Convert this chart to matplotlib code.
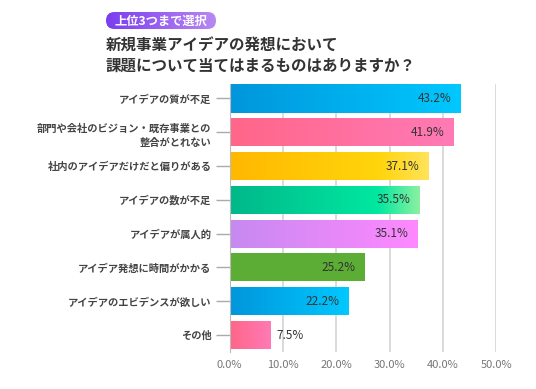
import numpy as np
import matplotlib
matplotlib.use("Agg")
import matplotlib.pyplot as plt
from matplotlib.colors import LinearSegmentedColormap
from matplotlib.patches import FancyBboxPatch

plt.rcParams['font.family'] = ['Noto Sans CJK JP', 'DejaVu Sans']

categories = [
    "アイデアの質が不足",
    "部門や会社のビジョン・既存事業との\n整合がとれない",
    "社内のアイデアだけだと偏りがある",
    "アイデアの数が不足",
    "アイデアが属人的",
    "アイデア発想に時間がかかる",
    "アイデアのエビデンスが欲しい",
    "その他",
]
values = [43.2, 41.9, 37.1, 35.5, 35.1, 25.2, 22.2, 7.5]
xticks = [0, 10, 20, 30, 40, 50]
badge_text = "上位3つまで選択"
title_lines = ["新規事業アイデアの発想において", "課題について当てはまるものはありますか？"]

gradients = [
    [(0, "#0096dc"), (1, "#00c8fe")],
    [(0, "#ff6688"), (1, "#ff7ab6")],
    [(0, "#ffb800"), (0.75, "#ffd50c"), (1, "#ffe35a")],
    [(0, "#00b88a"), (0.78, "#00e8a0"), (1, "#8cf0a0")],
    [(0, "#c68af0"), (1, "#ff88ff")],
    [(0, "#5cad35"), (1, "#5cad35")],
    [(0, "#0096dc"), (1, "#00c8fe")],
    [(0, "#ff6688"), (1, "#ff7ab6")],
]

fig = plt.figure(figsize=(5.36, 3.89), dpi=100)
ax = fig.add_axes([0.4282, 0.0951, 0.4981, 0.6877])

y = np.arange(len(categories))
bars = ax.barh(y, values, height=0.83, color="none", edgecolor="none", zorder=3)

grad = np.linspace(0, 1, 256).reshape(1, -1)
for b, g in zip(bars, gradients):
    x0, y0 = b.get_x(), b.get_y()
    w, h = b.get_width(), b.get_height()
    cmap = LinearSegmentedColormap.from_list("g", g)
    im = ax.imshow(grad, cmap=cmap, extent=[x0, x0 + w, y0 + h, y0],
                   aspect="auto", zorder=3, interpolation="bilinear")
    im.set_clip_path(b)

ax.set_xlim(0, 50)
ax.set_ylim(7.503, -0.414)
ax.set_xticks(xticks)
ax.set_xticklabels([f"{t:.1f}%" for t in xticks], color="#777777", fontsize=8)
ax.set_yticks(y)
ax.set_yticklabels(categories, fontsize=7.4, color="#444444", fontweight="bold",
                   linespacing=1.55)
ax.tick_params(axis="y", length=10, color="#aaaaaa", width=1, pad=3)
ax.tick_params(axis="x", length=0, pad=6)
ax.grid(axis="x", color="#d4d4d4", linewidth=1.2, zorder=1)
for s in ["top", "right", "bottom"]:
    ax.spines[s].set_visible(False)
ax.spines["left"].set_color("#bbbbbb")
ax.spines["left"].set_zorder(4)

for b, v in zip(bars, values):
    yc = b.get_y() + b.get_height() / 2
    if v > 15:
        ax.annotate(f"{v:.1f}%", (v, yc), xytext=(-6, 0), textcoords="offset points",
                    ha="right", va="center", fontsize=8.5, color="#333333", zorder=5)
    else:
        ax.annotate(f"{v:.1f}%", (v, yc), xytext=(5, 0), textcoords="offset points",
                    ha="left", va="center", fontsize=8.5, color="#333333", zorder=5)

# badge
W, H = 536, 389
bx0, bx1, by0, by1 = 106, 216, 12, 29
bw, bh = bx1 - bx0, by1 - by0
bax = fig.add_axes([bx0 / W, 1 - by1 / H, bw / W, bh / H])
bax.set_xlim(0, bw)
bax.set_ylim(0, bh)
bax.axis("off")
pill = FancyBboxPatch((0, 0), bw, bh, boxstyle=f"round,pad=0,rounding_size={bh/2}",
                      facecolor="none", edgecolor="none")
bax.add_patch(pill)
bcmap = LinearSegmentedColormap.from_list("b", ["#7a3df0", "#b988f2"])
bim = bax.imshow(grad, cmap=bcmap, extent=[0, bw, 0, bh], aspect="auto")
bim.set_clip_path(pill)
bax.text(bw / 2, bh * 0.47, badge_text, ha="center", va="center", color="white",
         fontsize=8.8, fontweight="bold")

fig.text(106 / W, 1 - 46 / H, title_lines[0], ha="left", va="center",
         fontsize=11.2, fontweight="bold", color="#333333")
fig.text(106 / W, 1 - 66 / H, title_lines[1], ha="left", va="center",
         fontsize=11.2, fontweight="bold", color="#333333")

fig.savefig("out.png", dpi=100, facecolor="white")
